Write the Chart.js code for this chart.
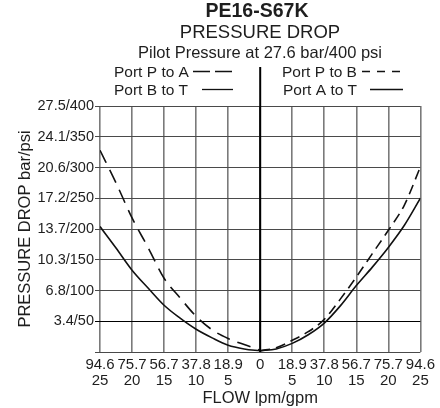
<!DOCTYPE html>
<html>
<head>
<meta charset="utf-8">
<script src="https://cdn.jsdelivr.net/npm/chart.js@4/dist/chart.umd.min.js"></script>
<style>
  html, body { margin: 0; padding: 0; background: #ffffff; }
  #wrap { width: 440px; height: 408px; }
</style>
</head>
<body>
<div id="wrap"><canvas id="c" width="440" height="408"></canvas></div>
<script>
// ---- Data (flow in gpm, pressure drop in psi) ----
const leftFlow  = [-25, -22.5, -20, -17.5, -15, -12.5, -10, -7.5, -5, -2.5, 0];
const portPtoA  = [328, 275, 218, 170, 120, 88, 58, 36, 22, 12, 3];
const portBtoT  = [204, 169, 133, 104, 76, 55, 37, 23, 11, 5, 2];
const rightFlow = [0, 2.5, 5, 7.5, 10, 12.5, 15, 17.5, 20, 22.5, 25];
const portPtoB  = [2, 7, 19, 33, 53, 86, 122, 160, 198, 239, 301];
const portAtoT  = [2, 5, 14, 28, 47, 75, 108, 138, 170, 206, 250];

// ---- Tick labels ----
const xTickValues = [-25, -20, -15, -10, -5, 0, 5, 10, 15, 20, 25];
const xTickLpm = ["94.6", "75.7", "56.7", "37.8", "18.9", "0", "18.9", "37.8", "56.7", "75.7", "94.6"];
const xTickGpm = ["25", "20", "15", "10", "5", "", "5", "10", "15", "20", "25"];
const yTickValues = [0, 50, 100, 150, 200, 250, 300, 350, 400];
const yTickLabels = ["", "3.4/50", "6.8/100", "10.3/150", "13.7/200", "17.2/250", "20.6/300", "24.1/350", "27.5/400"];

const titleLines = ["PE16-S67K", "PRESSURE DROP", "Pilot Pressure at 27.6 bar/400 psi"];
const legendLeft = ["Port P to A", "Port B to T"];
const legendRight = ["Port P to B", "Port A to T"];

const FONT = "'Liberation Sans', Arial, Helvetica, sans-serif";
const TEXT = "#1e1e1e";

function pts(xs, ys) { return xs.map((x, i) => ({ x: x, y: ys[i] })); }

const decor = {
  id: 'decor',
  afterDraw(chart) {
    const ctx = chart.ctx;
    const xs = chart.scales.x;
    const ys = chart.scales.y;
    ctx.save();
    ctx.fillStyle = TEXT;
    ctx.textAlign = 'center';
    ctx.textBaseline = 'alphabetic';
    ctx.font = "bold 19.5px " + FONT;
    ctx.fillText(titleLines[0], 257, 17);
    ctx.font = "18.5px " + FONT;
    ctx.fillText(titleLines[1], 260, 38);
    ctx.font = "16.5px " + FONT;
    ctx.fillText(titleLines[2], 260, 58);

    ctx.textAlign = 'left';
    ctx.font = "15.5px " + FONT;
    ctx.fillText(legendLeft[0], 114, 77);
    ctx.fillText(legendLeft[1], 114, 95);
    ctx.fillText(legendRight[0], 282, 77);
    ctx.fillText(legendRight[1], 283, 95);

    ctx.strokeStyle = '#111';
    ctx.lineWidth = 1.3;
    // P to A sample (long dashes)
    ctx.setLineDash([17, 5]);
    ctx.beginPath(); ctx.moveTo(193, 71.5); ctx.lineTo(233, 71.5); ctx.stroke();
    // P to B sample (short dashes)
    ctx.setLineDash([8, 7]);
    ctx.beginPath(); ctx.moveTo(362, 71.5); ctx.lineTo(403, 71.5); ctx.stroke();
    ctx.setLineDash([]);
    ctx.beginPath(); ctx.moveTo(202, 89.5); ctx.lineTo(233, 89.5); ctx.stroke();
    ctx.beginPath(); ctx.moveTo(370, 89.5); ctx.lineTo(403, 89.5); ctx.stroke();

    // centre divider line
    const cx = xs.getPixelForValue(0);
    ctx.strokeStyle = '#000';
    ctx.lineWidth = 2;
    ctx.beginPath(); ctx.moveTo(cx, 67); ctx.lineTo(cx, ys.getPixelForValue(0)); ctx.stroke();
    ctx.restore();
  }
};

const solid = { borderColor: '#111', borderWidth: 1.6, pointRadius: 0, showLine: true, fill: false, cubicInterpolationMode: 'monotone' };

new Chart(document.getElementById('c'), {
  type: 'scatter',
  data: {
    datasets: [
      Object.assign({}, solid, { label: legendLeft[0], data: pts(leftFlow, portPtoA), borderDash: [14, 8] }),
      Object.assign({}, solid, { label: legendLeft[1], data: pts(leftFlow, portBtoT) }),
      Object.assign({}, solid, { label: legendRight[0], data: pts(rightFlow, portPtoB), borderDash: [10, 6] }),
      Object.assign({}, solid, { label: legendRight[1], data: pts(rightFlow, portAtoT) })
    ]
  },
  options: {
    responsive: false,
    animation: false,
    devicePixelRatio: 1,
    layout: { padding: { top: 106, right: 18, bottom: 0, left: 0 } },
    plugins: { legend: { display: false }, tooltip: { enabled: false }, title: { display: false } },
    scales: {
      x: {
        type: 'linear', min: -25, max: 25,
        afterBuildTicks: (s) => { s.ticks = xTickValues.map(v => ({ value: v })); },
        afterFit: (s) => { s.height = 56; },
        ticks: {
          autoSkip: false, maxRotation: 0, minRotation: 0, padding: 5,
          color: TEXT, font: { family: FONT, size: 15, lineHeight: 1.07 },
          callback: (v) => { const i = xTickValues.indexOf(v); return i < 0 ? '' : [xTickLpm[i], xTickGpm[i]]; }
        },
        grid: { drawTicks: false, color: '#7a7a7a', lineWidth: 1.6 },
        border: { display: false },
        title: { display: true, text: 'FLOW lpm/gpm', color: TEXT, font: { family: FONT, size: 16.5 }, padding: { top: 0, bottom: 0 } }
      },
      y: {
        type: 'linear', min: 0, max: 400,
        afterBuildTicks: (s) => { s.ticks = yTickValues.map(v => ({ value: v })); },
        afterFit: (s) => { s.width = 100; },
        ticks: {
          autoSkip: false, padding: 1, color: TEXT, font: { family: FONT, size: 14.5 },
          callback: (v) => { const i = yTickValues.indexOf(v); return i < 0 ? '' : yTickLabels[i]; }
        },
        grid: { drawTicks: true, tickLength: 5, color: (c) => (c.tick && c.tick.value === 50 ? '#000' : '#4a4a4a'), lineWidth: 1 },
        border: { display: false },
        title: { display: true, text: 'PRESSURE DROP bar/psi', color: TEXT, font: { family: FONT, size: 16.5 }, padding: { top: 16, bottom: 0 } }
      }
    }
  },
  plugins: [decor]
});
</script>
</body>
</html>
